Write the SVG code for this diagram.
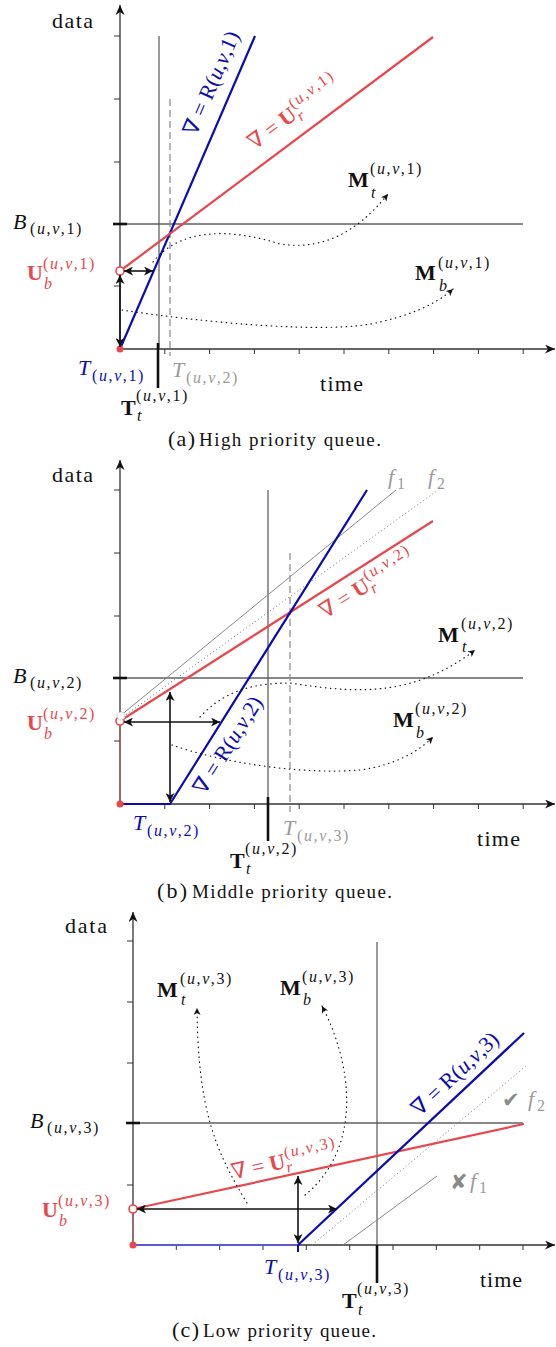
<svg xmlns="http://www.w3.org/2000/svg" width="556" height="1347" viewBox="0 0 556 1347">
<style>
.t{font-family:"Liberation Serif","DejaVu Serif",serif;font-size:22px;fill:#111}
.s{font-size:16px;letter-spacing:1.6px}
.cap{font-size:19px}
.i{font-style:italic}
.bd{font-weight:bold}
.red{fill:#e8474b}
.blu{fill:#0b0bb3}
.gry{fill:#9a9a9a}
.sym{font-family:"DejaVu Sans",sans-serif;font-size:21px;fill:#8a8a8a}
.axis{stroke:#333;stroke-width:1.3;fill:none}
.tick{stroke:#333;stroke-width:1;fill:none}
.btick{stroke:#111;stroke-width:2.6}
.bline{stroke:#111;stroke-width:1}
.tt{stroke:#111;stroke-width:2.6}
.vline{stroke:#555;stroke-width:1.2}
.dash{stroke:#888;stroke-width:1.2;stroke-dasharray:7,4}
.rl{stroke:#e8474b;stroke-width:2.2;fill:none}
.bll{stroke:#0b0bb3;stroke-width:2.2;fill:none}
.rdot{stroke:#e8474b;stroke-width:1.2;stroke-dasharray:1.5,1.5}
.f1{stroke:#888;stroke-width:1}
.f2{stroke:#888;stroke-width:1;stroke-dasharray:1.2,2.5}
.dc{stroke:#111;stroke-width:1.2;stroke-dasharray:0.5,4.5;stroke-linecap:round;fill:none}
.da{stroke:#111;stroke-width:1.6;fill:none}
</style>
<defs>
<marker id="ax" markerWidth="11" markerHeight="9" refX="10" refY="4.5" orient="auto" markerUnits="userSpaceOnUse"><path d="M0,0 L10,4.5 L0,9 L3,4.5 z" fill="#111"/></marker>
<marker id="ar" markerWidth="10" markerHeight="9" refX="9" refY="4.5" orient="auto-start-reverse" markerUnits="userSpaceOnUse"><path d="M0,0 L9,4.5 L0,9 L2.5,4.5 z" fill="#111"/></marker>
<marker id="dm" markerWidth="8" markerHeight="7" refX="7" refY="3.5" orient="auto" markerUnits="userSpaceOnUse"><path d="M0,0 L7,3.5 L0,7 L2,3.5 z" fill="#111"/></marker>
</defs>

<!-- ================= PANEL A ================= -->
<g id="panel-a">
 <g id="a-axes">
  <line class="axis" x1="120" y1="349" x2="120" y2="5" marker-end="url(#ax)"/>
  <line class="axis" x1="120" y1="349" x2="555" y2="349" marker-end="url(#ax)"/>
  <path class="tick" d="M114,36H120M114,99H120M114,162H120M114,286H120M164.8,349v5M209.6,349v5M254.4,349v5M299.2,349v5M344,349v5M388.8,349v5M433.6,349v5M478.4,349v5M523.2,349v5"/>
  <line class="btick" x1="113" y1="224" x2="127" y2="224"/>
  <text class="t" x="52" y="28" textLength="41">data</text>
  <text class="t" x="320" y="391" textLength="43">time</text>
 </g>
 <g id="a-bound">
  <line class="bline" x1="120" y1="224" x2="523" y2="224"/>
  <text class="t i" x="13" y="229">B</text>
  <text class="t s" x="30" y="234">(<tspan class="i">u</tspan>,<tspan class="i">v</tspan>,1)</text>
 </g>
 <g id="a-tt">
  <line class="vline" x1="159" y1="36" x2="159" y2="349" stroke="#777"/>
  <line class="tt" x1="158" y1="343" x2="158" y2="388"/>
  <text class="t bd" x="121" y="415">T</text>
  <text class="t s" x="136" y="401">(<tspan class="i">u</tspan>,<tspan class="i">v</tspan>,1)</text>
  <text class="t s i" x="137" y="421">t</text>
 </g>
 <g id="a-t2">
  <line class="dash" x1="170" y1="99" x2="170" y2="356"/>
  <text class="t i gry" x="172" y="377">T</text>
  <text class="t s gry" x="186" y="383">(<tspan class="i">u</tspan>,<tspan class="i">v</tspan>,2)</text>
 </g>
 <g id="a-rate">
  <line class="bll" x1="120" y1="349" x2="255" y2="36"/>
  <text class="t blu" text-anchor="middle" transform="translate(218,86) rotate(-66.7)">∇ = R(<tspan class="i">u</tspan>,<tspan class="i">v</tspan>,1)</text>
  <text class="t i blu" x="78" y="375">T</text>
  <text class="t s blu" x="92" y="381">(<tspan class="i">u</tspan>,<tspan class="i">v</tspan>,1)</text>
 </g>
 <g id="a-ur">
  <line class="rl" x1="120" y1="271" x2="433" y2="37"/>
  <text class="t red" text-anchor="middle" transform="translate(298,118) rotate(-36.8)">∇ = <tspan class="bd">U</tspan><tspan class="s i" dy="5">r</tspan><tspan class="s" dx="-7" dy="-15">(<tspan class="i">u</tspan>,<tspan class="i">v</tspan>,1)</tspan></text>
 </g>
 <g id="a-ub">
  <circle cx="120" cy="349" r="3.5" fill="#e8474b"/>
  <circle cx="120" cy="271" r="4" fill="#fff" stroke="#e8474b" stroke-width="1.6"/>
  <text class="t bd red" x="27" y="280">U</text>
  <text class="t s red" x="43" y="269">(<tspan class="i">u</tspan>,<tspan class="i">v</tspan>,1)</text>
  <text class="t s i red" x="44" y="289">b</text>
 </g>
 <g id="a-mt">
  <text class="t bd" x="348" y="187">M</text>
  <text class="t s" x="370" y="174">(<tspan class="i">u</tspan>,<tspan class="i">v</tspan>,1)</text>
  <text class="t s i" x="371" y="198">t</text>
 </g>
 <g id="a-mb">
  <text class="t bd" x="415" y="280">M</text>
  <text class="t s" x="438" y="268">(<tspan class="i">u</tspan>,<tspan class="i">v</tspan>,1)</text>
  <text class="t s i" x="439" y="291">b</text>
 </g>
 <g id="a-connectors">
  <line class="da" x1="124" y1="271" x2="153" y2="271" marker-start="url(#ar)" marker-end="url(#ar)"/>
  <line class="da" x1="120" y1="275" x2="120" y2="347" marker-start="url(#ar)" marker-end="url(#ar)"/>
  <path class="dc" d="M153,262 C180,228 230,228 280,244 C320,250 355,235 388,194" marker-end="url(#dm)"/>
  <path class="dc" d="M122,310 C200,322 330,335 380,322 C410,315 435,305 453,289" marker-end="url(#dm)"/>
 </g>
 <text class="t" x="168" y="446" textLength="27">(a)</text>
 <text class="t cap" x="199" y="446" textLength="182">High priority queue.</text>
</g>

<!-- ================= PANEL B ================= -->
<g id="panel-b">
 <g id="b-axes">
  <line class="axis" x1="120" y1="804" x2="120" y2="460" marker-end="url(#ax)"/>
  <line class="axis" x1="120" y1="804" x2="555" y2="804" marker-end="url(#ax)"/>
  <path class="tick" d="M114,490H120M114,553H120M114,616H120M114,741H120M164.8,804v5M209.6,804v5M254.4,804v5M299.2,804v5M344,804v5M388.8,804v5M433.6,804v5M478.4,804v5M523.2,804v5"/>
  <line class="btick" x1="113" y1="678" x2="127" y2="678"/>
  <text class="t" x="52" y="482" textLength="41">data</text>
  <text class="t" x="477" y="846" textLength="43">time</text>
 </g>
 <g id="b-bound">
  <line class="bline" x1="120" y1="678" x2="523" y2="678"/>
  <text class="t i" x="13" y="683">B</text>
  <text class="t s" x="30" y="688">(<tspan class="i">u</tspan>,<tspan class="i">v</tspan>,2)</text>
 </g>
 <g id="b-tt">
  <line class="vline" x1="268" y1="490" x2="268" y2="804"/>
  <line class="tt" x1="268" y1="797" x2="268" y2="841"/>
  <text class="t bd" x="230" y="868">T</text>
  <text class="t s" x="245" y="854">(<tspan class="i">u</tspan>,<tspan class="i">v</tspan>,2)</text>
  <text class="t s i" x="246" y="874">t</text>
 </g>
 <g id="b-t3">
  <line class="dash" x1="290" y1="553" x2="290" y2="812"/>
  <text class="t i gry" x="283" y="835">T</text>
  <text class="t s gry" x="297" y="841">(<tspan class="i">u</tspan>,<tspan class="i">v</tspan>,3)</text>
 </g>
 <g id="b-f1">
  <line class="f1" x1="120" y1="716" x2="396" y2="490"/>
  <text class="t i gry" x="388" y="484">f</text>
  <text class="t s gry" x="397" y="489">1</text>
 </g>
 <g id="b-f2">
  <line class="f2" x1="120" y1="719" x2="438" y2="490"/>
  <text class="t i gry" x="428" y="484">f</text>
  <text class="t s gry" x="437" y="489">2</text>
 </g>
 <g id="b-ur">
  <line class="rl" x1="120" y1="721" x2="433" y2="521"/>
  <text class="t red" text-anchor="middle" transform="translate(371,590) rotate(-32.6)">∇ = <tspan class="bd">U</tspan><tspan class="s i" dy="5">r</tspan><tspan class="s" dx="-7" dy="-15">(<tspan class="i">u</tspan>,<tspan class="i">v</tspan>,2)</tspan></text>
 </g>
 <g id="b-rate">
  <polyline class="bll" points="120,804 170,804 367,490"/>
  <text class="t blu" text-anchor="middle" transform="translate(234,749) rotate(-57.9)">∇ = R(<tspan class="i">u</tspan>,<tspan class="i">v</tspan>,2)</text>
  <text class="t i blu" x="133" y="830">T</text>
  <text class="t s blu" x="147" y="836">(<tspan class="i">u</tspan>,<tspan class="i">v</tspan>,2)</text>
 </g>
 <g id="b-ub">
  <line class="rdot" x1="120" y1="721" x2="120" y2="804"/>
  <circle cx="120" cy="804" r="3.5" fill="#e8474b"/>
  <circle cx="120" cy="721" r="4" fill="#fff" stroke="#e8474b" stroke-width="1.6"/>
  <circle cx="121" cy="716" r="4" fill="#fff" stroke="#999" stroke-width="1" stroke-dasharray="1,1"/>
  <text class="t bd red" x="27" y="730">U</text>
  <text class="t s red" x="43" y="719">(<tspan class="i">u</tspan>,<tspan class="i">v</tspan>,2)</text>
  <text class="t s i red" x="44" y="739">b</text>
 </g>
 <g id="b-mt">
  <text class="t bd" x="438" y="642">M</text>
  <text class="t s" x="461" y="629">(<tspan class="i">u</tspan>,<tspan class="i">v</tspan>,2)</text>
  <text class="t s i" x="462" y="652">t</text>
 </g>
 <g id="b-mb">
  <text class="t bd" x="393" y="727">M</text>
  <text class="t s" x="415" y="714">(<tspan class="i">u</tspan>,<tspan class="i">v</tspan>,2)</text>
  <text class="t s i" x="416" y="738">b</text>
 </g>
 <g id="b-connectors">
  <line class="da" x1="124" y1="722" x2="220" y2="722" marker-start="url(#ar)" marker-end="url(#ar)"/>
  <line class="da" x1="170" y1="692" x2="170" y2="802" marker-start="url(#ar)" marker-end="url(#ar)"/>
  <path class="dc" d="M200,717 C225,690 255,683 290,683 C350,692 410,700 475,650" marker-end="url(#dm)"/>
  <path class="dc" d="M172,745 C220,762 300,775 360,770 C395,765 418,752 433,737" marker-end="url(#dm)"/>
 </g>
 <text class="t" x="157" y="898" textLength="30">(b)</text>
 <text class="t cap" x="192" y="898" textLength="200">Middle priority queue.</text>
</g>

<!-- ================= PANEL C ================= -->
<g id="panel-c">
 <g id="c-axes">
  <line class="axis" x1="133" y1="1245" x2="133" y2="912" marker-end="url(#ax)"/>
  <line class="axis" x1="133" y1="1245" x2="555" y2="1245" marker-end="url(#ax)"/>
  <path class="tick" d="M127,941H133M127,1002H133M127,1063H133M127,1185H133M176.3,1245v5M219.7,1245v5M263,1245v5M306.3,1245v5M349.7,1245v5M393,1245v5M436.3,1245v5M479.7,1245v5M523,1245v5"/>
  <line class="btick" x1="126" y1="1123" x2="140" y2="1123"/>
  <text class="t" x="65" y="933" textLength="42">data</text>
  <text class="t" x="480" y="1287" textLength="42">time</text>
 </g>
 <g id="c-bound">
  <line class="bline" x1="133" y1="1123" x2="523" y2="1123" stroke="#444"/>
  <text class="t i" x="30" y="1128">B</text>
  <text class="t s" x="47" y="1133">(<tspan class="i">u</tspan>,<tspan class="i">v</tspan>,3)</text>
 </g>
 <g id="c-tt">
  <line class="vline" x1="377" y1="942" x2="377" y2="1245" stroke="#333"/>
  <line class="tt" x1="377" y1="1245" x2="377" y2="1283"/>
  <text class="t bd" x="342" y="1308">T</text>
  <text class="t s" x="357" y="1294">(<tspan class="i">u</tspan>,<tspan class="i">v</tspan>,3)</text>
  <text class="t s i" x="358" y="1315">t</text>
 </g>
 <g id="c-f1">
  <line class="f1" x1="343" y1="1245" x2="437" y2="1176"/>
  <text class="sym" x="450" y="1189">✘</text>
  <text class="t i gry" x="470" y="1188">f</text>
  <text class="t s gry" x="479" y="1193">1</text>
 </g>
 <g id="c-f2">
  <line class="f2" x1="312" y1="1245" x2="526" y2="1066"/>
  <text class="sym" x="502" y="1107">✔</text>
  <text class="t i gry" x="528" y="1106">f</text>
  <text class="t s gry" x="537" y="1111">2</text>
 </g>
 <g id="c-ur">
  <line class="rl" x1="133" y1="1209" x2="524" y2="1124"/>
  <text class="t red" text-anchor="middle" transform="translate(286,1168) rotate(-12.3)">∇ = <tspan class="bd">U</tspan><tspan class="s i" dy="5">r</tspan><tspan class="s" dx="-7" dy="-15">(<tspan class="i">u</tspan>,<tspan class="i">v</tspan>,3)</tspan></text>
 </g>
 <g id="c-rate">
  <line x1="133" y1="1245" x2="298" y2="1245" stroke="#5a5ad8" stroke-width="2"/>
  <line class="bll" x1="298" y1="1245" x2="524" y2="1033"/>
  <line x1="298" y1="1245" x2="298" y2="1252" stroke="#0b0bb3" stroke-width="2"/>
  <text class="t blu" text-anchor="middle" transform="translate(460,1079) rotate(-43.2)">∇ = R(<tspan class="i">u</tspan>,<tspan class="i">v</tspan>,3)</text>
  <text class="t i blu" x="264" y="1274">T</text>
  <text class="t s blu" x="278" y="1280">(<tspan class="i">u</tspan>,<tspan class="i">v</tspan>,3)</text>
 </g>
 <g id="c-ub">
  <line class="rdot" x1="133" y1="1209" x2="133" y2="1245"/>
  <circle cx="133" cy="1245" r="3.5" fill="#e8474b"/>
  <circle cx="133" cy="1209" r="4" fill="#fff" stroke="#e8474b" stroke-width="1.6"/>
  <text class="t bd red" x="42" y="1217">U</text>
  <text class="t s red" x="58" y="1206">(<tspan class="i">u</tspan>,<tspan class="i">v</tspan>,3)</text>
  <text class="t s i red" x="59" y="1226">b</text>
 </g>
 <g id="c-mt">
  <text class="t bd" x="157" y="997">M</text>
  <text class="t s" x="180" y="984">(<tspan class="i">u</tspan>,<tspan class="i">v</tspan>,3)</text>
  <text class="t s i" x="181" y="1005">t</text>
 </g>
 <g id="c-mb">
  <text class="t bd" x="280" y="995">M</text>
  <text class="t s" x="302" y="982">(<tspan class="i">u</tspan>,<tspan class="i">v</tspan>,3)</text>
  <text class="t s i" x="303" y="1005">b</text>
 </g>
 <g id="c-connectors">
  <line class="da" x1="137" y1="1209" x2="337" y2="1209" marker-start="url(#ar)" marker-end="url(#ar)"/>
  <line class="da" x1="298" y1="1176" x2="298" y2="1243" marker-start="url(#ar)" marker-end="url(#ar)"/>
  <path class="dc" d="M247,1203 C215,1150 198,1110 197,1008" marker-end="url(#dm)"/>
  <path class="dc" d="M305,1195 C360,1150 355,1070 322,1006" marker-end="url(#dm)"/>
 </g>
 <text class="t" x="172" y="1337" textLength="27">(c)</text>
 <text class="t cap" x="203" y="1337" textLength="173">Low priority queue.</text>
</g>
</svg>
